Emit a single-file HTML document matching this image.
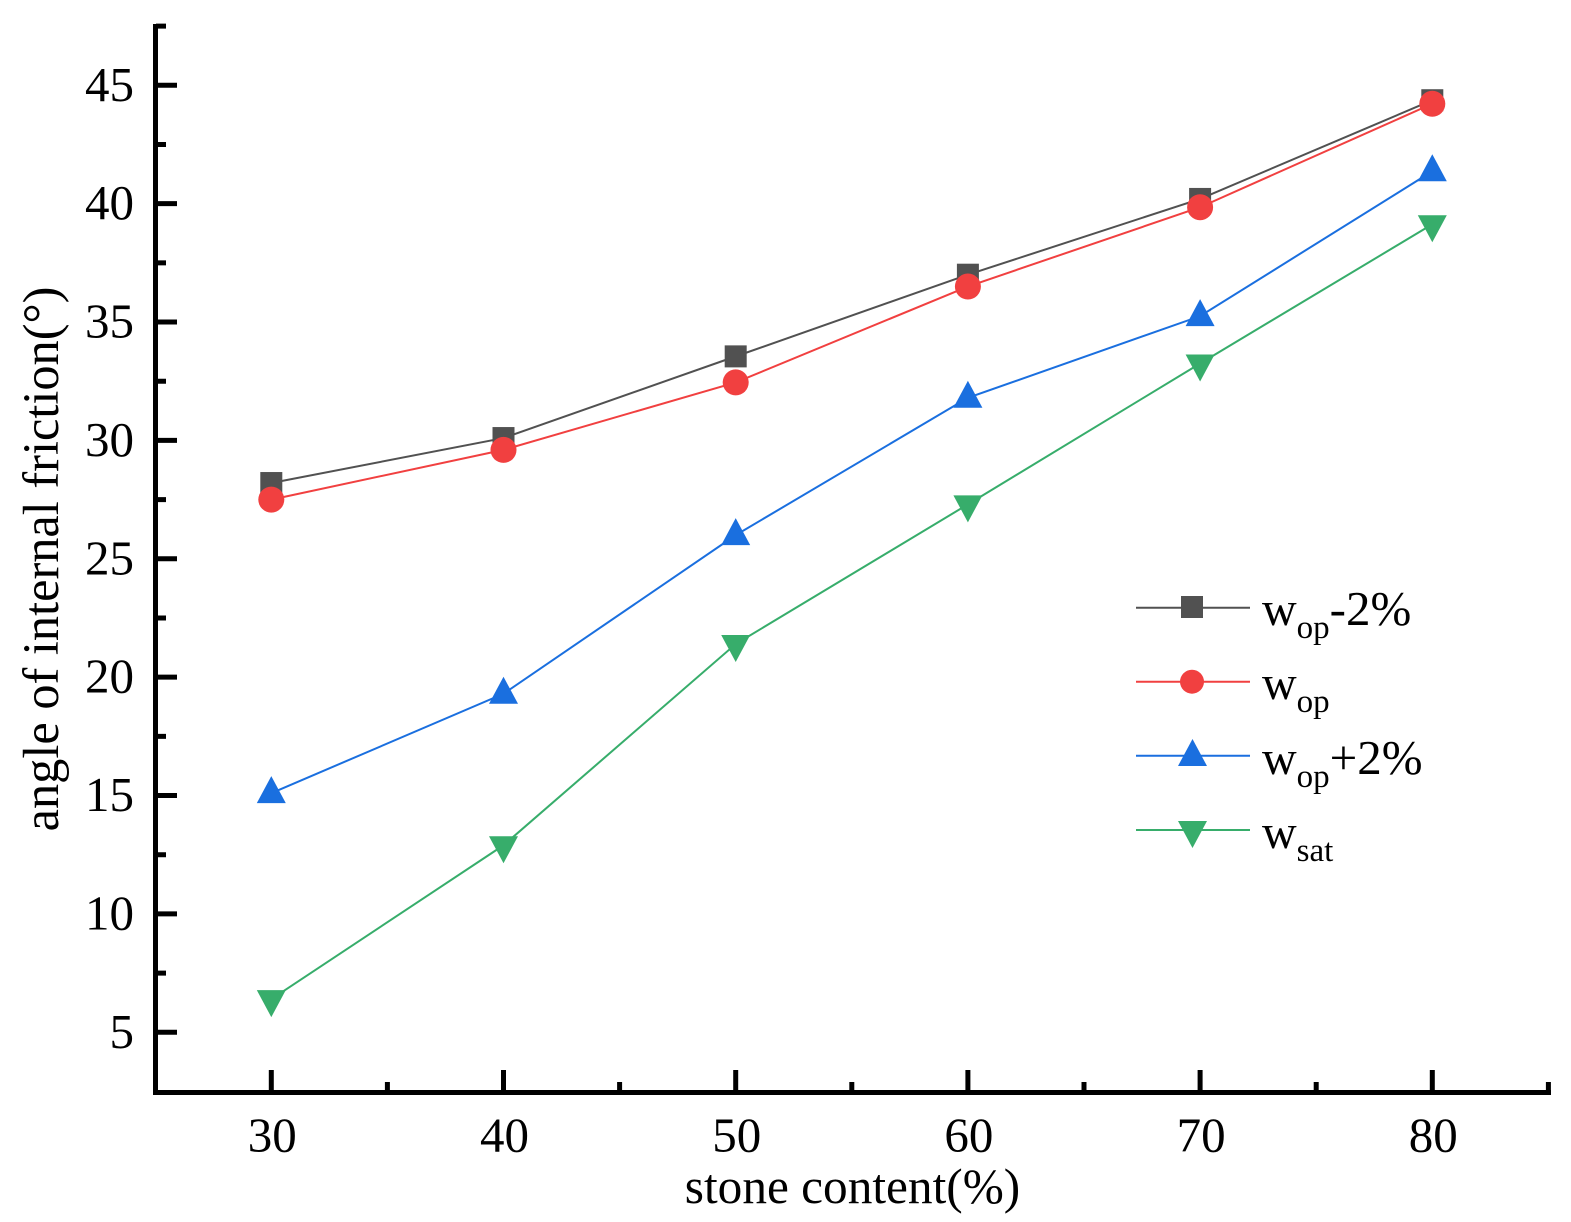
<!DOCTYPE html>
<html>
<head>
<meta charset="utf-8">
<title>Angle of internal friction vs stone content</title>
<style>
html,body{margin:0;padding:0;background:#fff;width:1571px;height:1222px;overflow:hidden}
svg{display:block}
text{font-family:"Liberation Serif",serif;fill:#000}
</style>
</head>
<body>
<svg id="chart" xmlns="http://www.w3.org/2000/svg" width="1571" height="1222" viewBox="0 0 1571 1222">
  <g id="series-layer"></g>
  <g id="axes-layer"></g>
  <text x="852.5" y="1203" font-size="49.3" text-anchor="middle">stone content(%)</text>
  <text transform="translate(58,559) rotate(-90)" font-size="50.4" text-anchor="middle">angle of internal friction(°)</text>
  <g>
    <g>
      <line x1="1136" x2="1250" y1="607.7" y2="607.7" stroke="#515151" stroke-width="2"/>
      <rect x="1181" y="596" width="22" height="22" fill="#515151"/>
      <text x="1262" y="625" font-size="48">w<tspan font-size="33" dy="13">op</tspan><tspan font-size="49" dy="-13">-2%</tspan></text>
    </g>
    <g>
      <line x1="1136" x2="1250" y1="681.7" y2="681.7" stroke="#F14040" stroke-width="2"/>
      <circle cx="1192" cy="681.7" r="12" fill="#F14040"/>
      <text x="1262" y="699" font-size="48">w<tspan font-size="33" dy="13">op</tspan></text>
    </g>
    <g>
      <line x1="1136" x2="1250" y1="755.7" y2="755.7" stroke="#1A6FDF" stroke-width="2"/>
      <polygon points="1192.5,739 1207,766 1178,766" fill="#1A6FDF"/>
      <text x="1262" y="774" font-size="48">w<tspan font-size="33" dy="13">op</tspan><tspan font-size="49" dy="-13">+2%</tspan></text>
    </g>
    <g>
      <line x1="1136" x2="1250" y1="830" y2="830" stroke="#37AD6B" stroke-width="2"/>
      <polygon points="1178,821 1207,821 1192.5,848" fill="#37AD6B"/>
      <text x="1262" y="848" font-size="48">w<tspan font-size="33" dy="13">sat</tspan></text>
    </g>
  </g>
</svg>
<script>
var categories = [30, 40, 50, 60, 70, 80];
var wopMinus2 = [28.2, 30.1, 33.55, 37.0, 40.2, 44.37];
var wop = [27.5, 29.6, 32.45, 36.5, 39.85, 44.22];
var wopPlus2 = [15.1, 19.3, 26.0, 31.8, 35.25, 41.37];
var wsat = [6.4, 12.9, 21.4, 27.3, 33.25, 39.13];
var xTickLabels = [30, 40, 50, 60, 70, 80];
var xMinorTicks = [35, 45, 55, 65, 75, 85];
var yTickLabels = [5, 10, 15, 20, 25, 30, 35, 40, 45];
var yMinorTicks = [7.5, 12.5, 17.5, 22.5, 27.5, 32.5, 37.5, 42.5, 47.5];

var NS = 'http://www.w3.org/2000/svg';
function xScale(v) { return 271.3 + (v - 30) * 23.22; }
function yScale(v) { return 1032.3 - (v - 5) * 23.675; }
function make(tag, attrs, parent) {
  var el = document.createElementNS(NS, tag);
  for (var k in attrs) { el.setAttribute(k, attrs[k]); }
  parent.appendChild(el);
  return el;
}

var seriesLayer = document.getElementById('series-layer');
var axesLayer = document.getElementById('axes-layer');

function drawSeries(name, values, color, shape) {
  var group = make('g', {}, seriesLayer);
  
  
  var pts = values.map(function (v, i) { return xScale(categories[i]) + ',' + yScale(v); }).join(' ');
  var line = make('polyline', { points: pts, fill: 'none', stroke: color, 'stroke-width': 2 }, group);
  
  
  values.forEach(function (v, i) {
    var x = xScale(categories[i]), y = yScale(v), m;
    if (shape === 'square') {
      m = make('rect', { x: x - 11, y: y - 11, width: 22, height: 22, fill: color }, group);
    } else if (shape === 'circle') {
      m = make('circle', { cx: x, cy: y, r: 13, fill: color }, group);
    } else if (shape === 'up') {
      m = make('polygon', { points: x + ',' + (y - 17) + ' ' + (x + 14.5) + ',' + (y + 10) + ' ' + (x - 14.5) + ',' + (y + 10), fill: color }, group);
    } else {
      m = make('polygon', { points: (x - 14.5) + ',' + (y - 9) + ' ' + (x + 14.5) + ',' + (y - 9) + ' ' + x + ',' + (y + 18), fill: color }, group);
    }
    
    
  });
}
drawSeries('wop-minus-2', wopMinus2, '#515151', 'square');
drawSeries('wop', wop, '#F14040', 'circle');
drawSeries('wop-plus-2', wopPlus2, '#1A6FDF', 'up');
drawSeries('wsat', wsat, '#37AD6B', 'down');

var xAxisLine = make('line', { x1: 153, x2: 1551, y1: 1092.5, y2: 1092.5, stroke: '#000', 'stroke-width': 5 }, axesLayer);


var yAxisLine = make('line', { x1: 155.5, x2: 155.5, y1: 24, y2: 1095, stroke: '#000', 'stroke-width': 5 }, axesLayer);



xTickLabels.forEach(function (v) {
  var x = xScale(v);
  var t = make('line', { x1: x, x2: x, y1: 1070, y2: 1092, stroke: '#000', 'stroke-width': 5 }, axesLayer);
  
  
  var l = make('text', { x: x + 1, y: 1151.5, 'font-size': 49, 'text-anchor': 'middle' }, axesLayer);
  l.textContent = v;
  
  
});
xMinorTicks.forEach(function (v) {
  var x = xScale(v);
  var t = make('line', { x1: x, x2: x, y1: 1082, y2: 1092, stroke: '#000', 'stroke-width': 5 }, axesLayer);
  
  
});
yTickLabels.forEach(function (v) {
  var y = yScale(v);
  var t = make('line', { x1: 156, x2: 177, y1: y, y2: y, stroke: '#000', 'stroke-width': 5 }, axesLayer);
  
  
  var l = make('text', { x: 134, y: y + 15.5, 'font-size': 49, 'text-anchor': 'end' }, axesLayer);
  l.textContent = v;
  
  
});
yMinorTicks.forEach(function (v) {
  var y = yScale(v);
  var t = make('line', { x1: 156, x2: 166, y1: y, y2: y, stroke: '#000', 'stroke-width': 5 }, axesLayer);
  
  
});
</script>
</body>
</html>
